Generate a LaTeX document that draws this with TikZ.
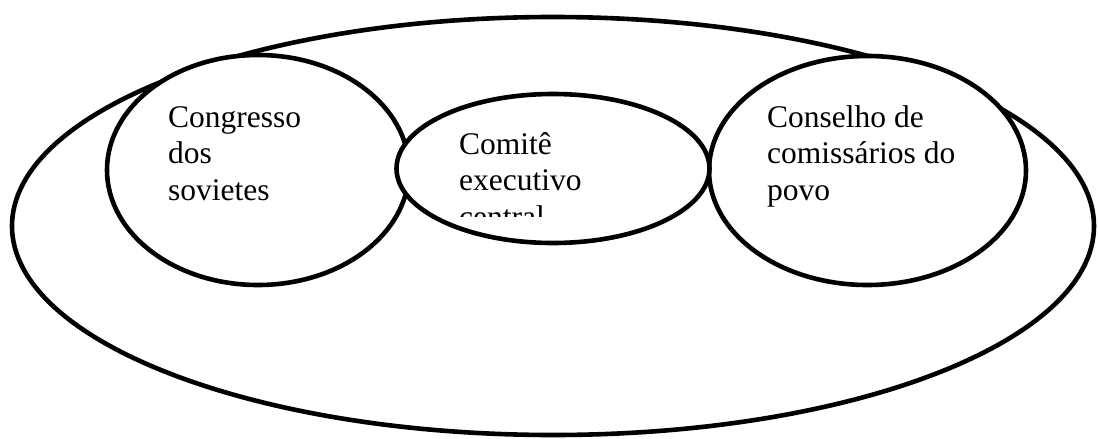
\documentclass[tikz,border=0pt]{standalone}
\usepackage{fontspec}
\setmainfont{Liberation Serif}
\usetikzlibrary{shapes.geometric}
\begin{document}
\begin{tikzpicture}[x=1pt,y=-1pt,
  ring/.style={ellipse,draw=black,line width=4.6pt,fill=white,inner sep=0pt},
  label/.style={anchor=base west,inner sep=0pt,font=\fontsize{31.5}{36.5}\selectfont}]
  \useasboundingbox (0,0) rectangle (1098,439);
  % outer ellipse
  \node[ring,minimum width=1082pt,minimum height=418pt] (outer) at (553,226) {};
  % side bodies
  \node[ring,minimum width=302pt,minimum height=230pt] (cong) at (258,170) {};
  \node[ring,minimum width=317pt,minimum height=229pt] (cons) at (867.5,170.5) {};
  % central body on top
  \node[ring,minimum width=313pt,minimum height=149pt] (comite) at (553,168.5) {};
  % texts
  \node[label] (tcong) at (168,127) {\parbox[t]{200pt}{Congresso\\dos\\sovietes}};
  \node[label] (tcons) at (767,127) {\parbox[t]{240pt}{Conselho de\\comissários do\\povo}};
  \begin{scope}
    \clip (440,100) rectangle (700,216.5);
    \node[label] (tcomite) at (459,154) {\parbox[t]{200pt}{Comitê\\executivo\\central}};
  \end{scope}
\end{tikzpicture}
\end{document}
